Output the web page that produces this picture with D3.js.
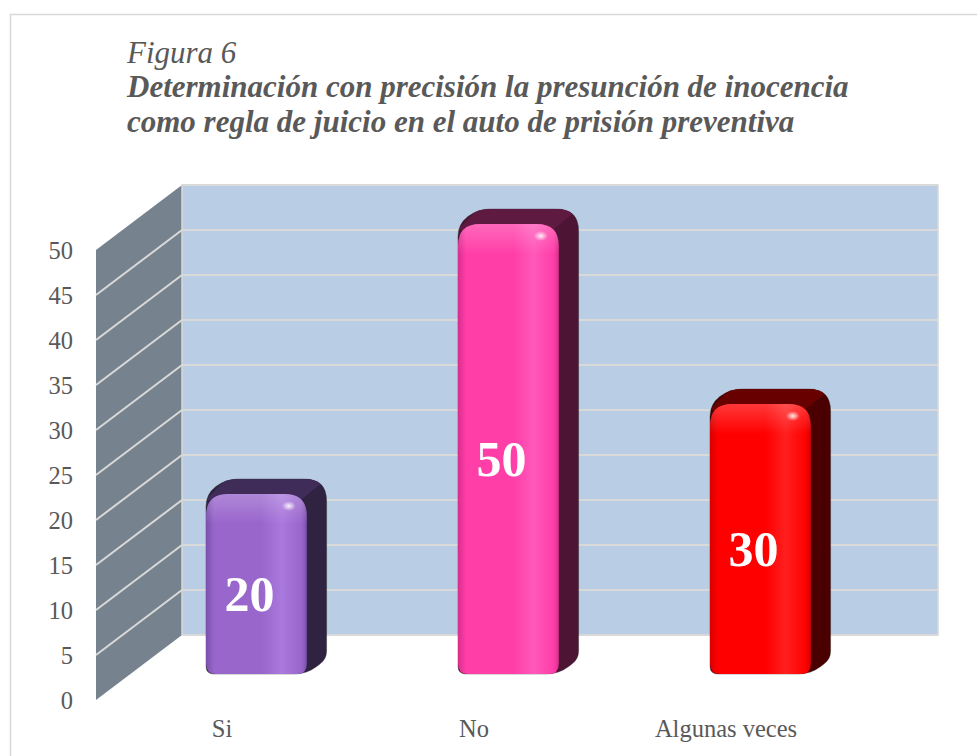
<!DOCTYPE html>
<html>
<head>
<meta charset="utf-8">
<script src="https://cdn.jsdelivr.net/npm/d3@7"></script>
<style>
	body { margin: 0; background: #fff; }
	svg text { font-family: "Liberation Serif", serif; }
</style>
</head>
<body>
<svg id="chart" width="977" height="756"></svg>
<script>
var categories = ["Si", "No", "Algunas veces"];
var values = [20, 50, 30];
var yTicks = [0, 5, 10, 15, 20, 25, 30, 35, 40, 45, 50];
var titleLines = ["Figura 6",
	"Determinación con precisión la presunción de inocencia",
	"como regla de juicio en el auto de prisión preventiva"];

// front / side / top shades for each bar
var palette = [
	{ dark: "#7a4fab", main: "#9966cc", light: "#aa79dd", side: "#2f2341", top: "#3f2c58" },
	{ dark: "#d92e8e", main: "#ff3ea8", light: "#ff58ba", side: "#4d1434", top: "#5e1a40" },
	{ dark: "#d80000", main: "#ff0000", light: "#ff1f1f", side: "#4a0000", top: "#690000" }
];

var svg = d3.select("#chart");
var defs = svg.append("defs");

var x = d3.scaleBand().domain(categories).range([96, 852]);
var y = d3.scaleLinear().domain([0, 50]).range([700, 250]);
var depth = { x: 86, y: -65 };

// outer frame
svg.append("rect")
	.attr("x", 10.5).attr("y", 14.5)
	.attr("width", 1000).attr("height", 800)
	.attr("fill", "none").attr("stroke", "#d9d9d9").attr("stroke-width", 1.5);

// title
var titleY = [63, 97, 132];
svg.selectAll("text.title")
	.data(titleLines)
	.enter()
	.append("text")
	.attr("class", "title")
	.attr("x", 127)
	.attr("y", function (d, i) { return titleY[i]; })
	.attr("fill", "#595959")
	.attr("font-style", "italic")
	.attr("font-weight", function (d, i) { return i == 0 ? "normal" : "bold"; })
	.attr("font-size", 31)
	.text(function (d) { return d; });

var x0 = x.range()[0], x1 = x.range()[1];

// side wall
svg.append("polygon")
	.attr("points", [
		[x0, y(0)], [x0, y(50)],
		[x0 + depth.x, y(50) + depth.y], [x0 + depth.x, y(0) + depth.y]
	].join(" "))
	.attr("fill", "#76838f");

// back wall
svg.append("rect")
	.attr("x", x0 + depth.x)
	.attr("y", y(50) + depth.y)
	.attr("width", x1 - x0)
	.attr("height", y(0) - y(50))
	.attr("fill", "#b9cde4")
	.attr("stroke", "#d9d9d9")
	.attr("stroke-width", 1.5);

// gridlines
var grid = svg.append("g").attr("stroke", "#d9d9d9").attr("stroke-width", 2);
grid.selectAll("line.back")
	.data(yTicks)
	.enter()
	.append("line")
	.attr("x1", x0 + depth.x).attr("x2", x1 + depth.x)
	.attr("y1", function (d) { return y(d) + depth.y; })
	.attr("y2", function (d) { return y(d) + depth.y; });
grid.selectAll("line.side")
	.data(yTicks.filter(function (d) { return d > 0 && d < 50; }))
	.enter()
	.append("line")
	.attr("x1", x0).attr("x2", x0 + depth.x)
	.attr("y1", function (d) { return y(d); })
	.attr("y2", function (d) { return y(d) + depth.y; });

// y axis labels
svg.selectAll("text.ytick")
	.data(yTicks)
	.enter()
	.append("text")
	.attr("x", 73)
	.attr("y", function (d) { return y(d); })
	.attr("dy", "0.35em")
	.attr("text-anchor", "end")
	.attr("font-size", 24.5)
	.attr("fill", "#595959")
	.text(function (d) { return d; });

// category labels
svg.selectAll("text.cat")
	.data(categories)
	.enter()
	.append("text")
	.attr("x", function (d) { return x(d) + x.bandwidth() / 2; })
	.attr("y", 737)
	.attr("text-anchor", "middle")
	.attr("font-size", 24.5)
	.attr("fill", "#595959")
	.text(function (d) { return d; });

function roundedPoly(pts, radii) {
	var n = pts.length, a = [], b = [];
	for (var i = 0; i < n; i++) {
		var p0 = pts[(i + n - 1) % n], p1 = pts[i], p2 = pts[(i + 1) % n];
		var l0 = Math.hypot(p0[0] - p1[0], p0[1] - p1[1]);
		var l2 = Math.hypot(p2[0] - p1[0], p2[1] - p1[1]);
		var r = Math.min(radii[i], l0 / 2, l2 / 2);
		a.push([p1[0] + (p0[0] - p1[0]) / l0 * r, p1[1] + (p0[1] - p1[1]) / l0 * r]);
		b.push([p1[0] + (p2[0] - p1[0]) / l2 * r, p1[1] + (p2[1] - p1[1]) / l2 * r]);
	}
	var d = "M" + a[0];
	for (var j = 0; j < n; j++) {
		d += "Q" + pts[j] + " " + b[j] + "L" + a[(j + 1) % n];
	}
	return d + "Z";
}

// bars
var z0 = 0.4, z1 = 0.63;
var bw = x.bandwidth() * 0.4;
var ddx = depth.x * (z1 - z0), ddy = depth.y * (z1 - z0);

var bars = categories.map(function (c, i) {
	var L = x(c) + (x.bandwidth() - bw) / 2 + depth.x * z0;
	var B = y(0) + depth.y * z0;
	return { i: i, c: c, v: values[i], L: L, R: L + bw, B: B, T: y(values[i]) + depth.y * z0 };
});

bars.forEach(function (b) {
	var col = palette[b.i];
	var g = svg.append("g");

	var fg = defs.append("linearGradient").attr("id", "front" + b.i)
		.attr("x1", 0).attr("x2", 1).attr("y1", 0).attr("y2", 0);
	fg.append("stop").attr("offset", "0%").attr("stop-color", col.dark);
	fg.append("stop").attr("offset", "8%").attr("stop-color", col.main);
	fg.append("stop").attr("offset", "55%").attr("stop-color", col.main);
	fg.append("stop").attr("offset", "75%").attr("stop-color", col.light);
	fg.append("stop").attr("offset", "95%").attr("stop-color", col.main);
	fg.append("stop").attr("offset", "100%").attr("stop-color", col.dark);

	var tg = defs.append("linearGradient").attr("id", "shine" + b.i)
		.attr("gradientUnits", "userSpaceOnUse")
		.attr("x1", 0).attr("x2", 0).attr("y1", b.T).attr("y2", b.T + 30);
	tg.append("stop").attr("offset", "0%").attr("stop-color", "#fff").attr("stop-opacity", 0.22);
	tg.append("stop").attr("offset", "100%").attr("stop-color", "#fff").attr("stop-opacity", 0);

	var hl = defs.append("radialGradient").attr("id", "hl" + b.i);
	hl.append("stop").attr("offset", "0%").attr("stop-color", "#fff").attr("stop-opacity", 0.9);
	hl.append("stop").attr("offset", "100%").attr("stop-color", "#fff").attr("stop-opacity", 0);

	var outline = roundedPoly([
		[b.L, b.B], [b.L, b.T], [b.L + ddx, b.T + ddy],
		[b.R + ddx, b.T + ddy], [b.R + ddx, b.B + ddy], [b.R, b.B]
	], [8, 22, 14, 22, 8, 14]);

	defs.append("clipPath").attr("id", "clip" + b.i)
		.append("path").attr("d", outline);

	g.append("path").attr("d", outline).attr("fill", col.side)
		.attr("stroke", "#1a1a1a").attr("stroke-opacity", 0.35).attr("stroke-width", 1);

	g.append("polygon")
		.attr("clip-path", "url(#clip" + b.i + ")")
		.attr("points", [
			[b.L, b.T + 6], [b.L + ddx, b.T + ddy], [b.R + ddx, b.T + ddy], [b.R - 6, b.T + 6]
		].join(" "))
		.attr("fill", col.top);

	var front = roundedPoly([[b.L, b.B], [b.L, b.T], [b.R, b.T], [b.R, b.B]], [10, 22, 22, 10]);
	g.append("path").attr("d", front).attr("fill", "url(#front" + b.i + ")");
	g.append("path").attr("d", front).attr("fill", "url(#shine" + b.i + ")");
	g.append("ellipse")
		.attr("cx", b.R - 18).attr("cy", b.T + 12)
		.attr("rx", 7).attr("ry", 5)
		.attr("fill", "url(#hl" + b.i + ")");

	g.append("text")
		.attr("x", (b.L + b.R) / 2 - 7)
		.attr("y", (b.T + b.B) / 2 + 9)
		.attr("dy", "0.35em")
		.attr("text-anchor", "middle")
		.attr("font-size", 50)
		.attr("font-weight", "bold")
		.attr("fill", "#fff")
		.text(b.v);
});
</script>
</body>
</html>
